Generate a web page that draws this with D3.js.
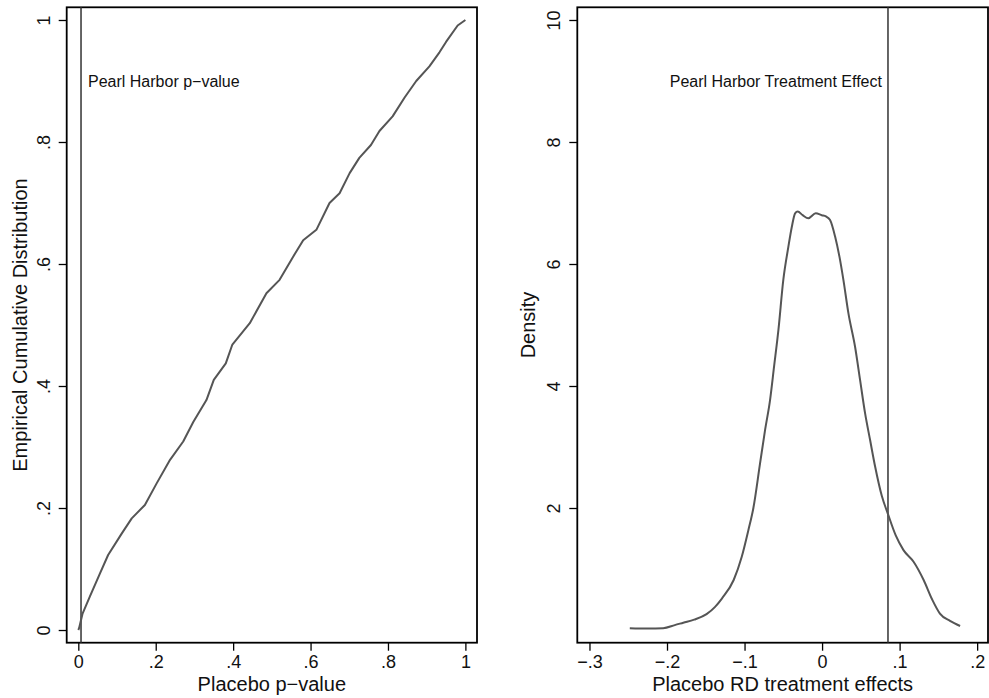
<!DOCTYPE html>
<html>
<head>
<meta charset="utf-8">
<script src="https://cdn.jsdelivr.net/npm/d3@7"></script>
<style>
  body { margin: 0; background: #fff; }
  svg text { font-family: "Liberation Sans", Arial, Helvetica, sans-serif; fill: #111; }
</style>
</head>
<body>
<div id="chart"></div>
<script>
// left panel: empirical CDF of placebo p-values
var ecdfP = [0, 0.002, 0.011, 0.03, 0.056, 0.077, 0.112, 0.138, 0.172, 0.202, 0.237, 0.271, 0.297, 0.331, 0.35,
    0.381, 0.398, 0.443, 0.486, 0.52, 0.555, 0.581, 0.615, 0.649, 0.675, 0.701, 0.726, 0.756, 0.778, 0.812,
    0.843, 0.873, 0.907, 0.933, 0.95, 0.98, 1];
var ecdfF = [0, 0.003, 0.027, 0.055, 0.093, 0.123, 0.158, 0.183, 0.205, 0.24, 0.279, 0.309, 0.341, 0.377, 0.41,
    0.437, 0.468, 0.503, 0.552, 0.574, 0.612, 0.639, 0.656, 0.7, 0.716, 0.749, 0.774, 0.795, 0.818, 0.842,
    0.873, 0.9, 0.924, 0.947, 0.964, 0.991, 1];
var pearlP = 0.007;
var leftXTicks = [0, 0.2, 0.4, 0.6, 0.8, 1];
var leftYTicks = [0, 0.2, 0.4, 0.6, 0.8, 1];

// right panel: kernel density of placebo RD effects
var kdeX = [-0.248, -0.225, -0.205, -0.19, -0.179, -0.165, -0.149, -0.138, -0.129, -0.114, -0.1036, -0.095,
    -0.0886, -0.08, -0.0735, -0.0671, -0.0619, -0.0563, -0.05, -0.0435, -0.039, -0.0348, -0.0314, -0.025,
    -0.0177, -0.0082, -0.0004, 0.005, 0.0103, 0.0168, 0.0224, 0.0275, 0.034, 0.0426, 0.049, 0.0555, 0.062,
    0.0684, 0.077, 0.085, 0.095, 0.105, 0.118, 0.131, 0.142, 0.152, 0.165, 0.178];
var kdeD = [0.03, 0.025, 0.03, 0.08, 0.12, 0.17, 0.26, 0.38, 0.52, 0.82, 1.2, 1.64,
    2.0, 2.73, 3.28, 3.77, 4.32, 4.92, 5.74, 6.28, 6.61, 6.83, 6.86, 6.8,
    6.75, 6.83, 6.8, 6.78, 6.72, 6.45, 6.12, 5.74, 5.19, 4.64, 4.1, 3.55, 3.11,
    2.68, 2.2, 1.9, 1.55, 1.31, 1.12, 0.82, 0.5, 0.27, 0.15, 0.066];
var pearlEffect = 0.085;
var rightXTicks = [-0.3, -0.2, -0.1, 0, 0.1, 0.2];
var rightYTicks = [2, 4, 6, 8, 10];

var width = 989, height = 698;
var svg = d3.select("#chart").append("svg")
    .attr("width", width)
    .attr("height", height);

function fmt(v) {
    if (v === 0) return "0";
    var s = String(Math.round(v * 100) / 100).replace("0.", ".");
    return s.replace("-", "\u2212");
}

function drawPanel(opt) {
    var x = d3.scaleLinear().domain(opt.xDomain).range([opt.left, opt.right]);
    var y = d3.scaleLinear().domain(opt.yDomain).range([opt.bottom, opt.top]);
    var g = svg.append("g");

    // plot region outline
    g.append("rect")
        .attr("x", opt.left)
        .attr("y", opt.top)
        .attr("width", opt.right - opt.left)
        .attr("height", opt.bottom - opt.top)
        .attr("fill", "none")
        .attr("stroke", "#000")
        .attr("stroke-width", 1.8);

    var xAxis = g.append("g")
        .attr("transform", "translate(0," + opt.bottom + ")")
        .call(d3.axisBottom(x).tickValues(opt.xTicks).tickSize(8).tickFormat(fmt));
    xAxis.select(".domain").remove();
    xAxis.selectAll(".tick line").attr("stroke", "#000").attr("stroke-width", 1.3);
    xAxis.selectAll(".tick text")
        .attr("y", 25.5)
        .attr("dy", 0)
        .attr("font-size", "18px");

    var yAxis = g.append("g")
        .attr("transform", "translate(" + opt.left + ",0)")
        .call(d3.axisLeft(y).tickValues(opt.yTicks).tickSize(8).tickFormat(opt.yFormat));
    yAxis.select(".domain").remove();
    yAxis.selectAll(".tick line").attr("stroke", "#000").attr("stroke-width", 1.3);
    yAxis.selectAll(".tick text")
        .attr("x", 0)
        .attr("y", -17)
        .attr("dy", 0)
        .attr("transform", "rotate(-90)")
        .attr("text-anchor", "middle")
        .attr("font-size", "18px");

    // axis titles
    g.append("text")
        .attr("x", (opt.left + opt.right) / 2)
        .attr("y", 690.5)
        .attr("text-anchor", "middle")
        .attr("font-size", "20px")
        .text(opt.xTitle);
    g.append("text")
        .attr("transform", "translate(" + opt.yTitleX + "," + (opt.top + opt.bottom) / 2 + ") rotate(-90)")
        .attr("text-anchor", "middle")
        .attr("font-size", "20px")
        .text(opt.yTitle);

    // reference line
    g.append("line")
        .attr("x1", x(opt.refX))
        .attr("x2", x(opt.refX))
        .attr("y1", opt.top)
        .attr("y2", opt.bottom)
        .attr("stroke", "#333")
        .attr("stroke-width", 1.5);

    // curve
    var pts = opt.xs.map(function(v, i) { return [v, opt.ys[i]]; });
    g.append("path")
        .datum(pts)
        .attr("fill", "none")
        .attr("stroke", "#555")
        .attr("stroke-width", 2)
        .attr("stroke-linejoin", "round")
        .attr("d", d3.line()
            .x(function(d) { return x(d[0]); })
            .y(function(d) { return y(d[1]); })
            .curve(opt.curve));

    // annotation
    g.append("text")
        .attr("x", x(opt.noteX) + opt.noteDx)
        .attr("y", y(opt.noteY))
        .attr("dy", "0.35em")
        .attr("text-anchor", opt.noteAnchor)
        .attr("font-size", "16px")
        .text(opt.note);
}

drawPanel({
    left: 66.7, right: 477, top: 7.3, bottom: 642.7,
    xDomain: [-0.03, 1.03], yDomain: [-0.0208, 1.0208],
    xTicks: leftXTicks, yTicks: leftYTicks, yFormat: fmt,
    xTitle: "Placebo p\u2212value", yTitle: "Empirical Cumulative Distribution", yTitleX: 27,
    refX: pearlP, xs: ecdfP, ys: ecdfF, curve: d3.curveLinear,
    note: "Pearl Harbor p\u2212value", noteX: pearlP, noteY: 0.9, noteDx: 7, noteAnchor: "start"
});

drawPanel({
    left: 577.3, right: 988, top: 7.3, bottom: 642.7,
    xDomain: [-0.3157, 0.214], yDomain: [-0.208, 10.208],
    xTicks: rightXTicks, yTicks: rightYTicks, yFormat: d3.format("d"),
    xTitle: "Placebo RD treatment effects", yTitle: "Density", yTitleX: 535,
    refX: pearlEffect, xs: kdeX, ys: kdeD, curve: d3.curveMonotoneX,
    note: "Pearl Harbor Treatment Effect", noteX: pearlEffect, noteY: 9, noteDx: -6, noteAnchor: "end"
});
</script>
</body>
</html>
